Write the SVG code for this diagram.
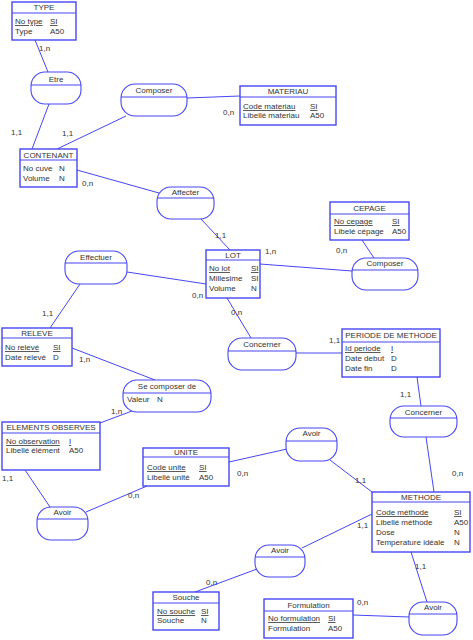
<svg xmlns="http://www.w3.org/2000/svg" width="473" height="640" viewBox="0 0 473 640">
<style>
text{font-family:"Liberation Sans",Arial,sans-serif;font-size:8px;fill:#333}
.c{text-anchor:middle}
.u{text-decoration:underline}
.ent{fill:#fff;stroke:#4646f5;stroke-width:1.4}
.as{fill:#fff;stroke:#4646f5;stroke-width:1.1}
.dv{stroke:#4646f5;stroke-width:1.1}
.ln{stroke:#4646f5;stroke-width:1;fill:none}
</style>
<defs>
<clipPath id="clipM"><rect x="372" y="492" width="98" height="60"/></clipPath>
</defs>
<g id="connectors">
<line class="ln" x1="35" y1="40" x2="48" y2="72"/>
<line class="ln" x1="49" y1="104" x2="32" y2="149"/>
<line class="ln" x1="126" y1="116" x2="57" y2="149"/>
<line class="ln" x1="187" y1="98" x2="240" y2="96"/>
<line class="ln" x1="77" y1="170" x2="159" y2="193"/>
<line class="ln" x1="201" y1="219" x2="230" y2="250"/>
<line class="ln" x1="260" y1="264" x2="352" y2="271"/>
<line class="ln" x1="362" y1="240" x2="374" y2="258"/>
<line class="ln" x1="127" y1="272" x2="206" y2="284"/>
<line class="ln" x1="80" y1="284" x2="50" y2="328"/>
<line class="ln" x1="227" y1="298" x2="251" y2="338"/>
<line class="ln" x1="296" y1="353" x2="342" y2="353"/>
<line class="ln" x1="417" y1="377" x2="421" y2="406"/>
<line class="ln" x1="426" y1="437" x2="434" y2="492"/>
<line class="ln" x1="72" y1="348" x2="155" y2="380"/>
<line class="ln" x1="132" y1="411" x2="100" y2="423"/>
<line class="ln" x1="25" y1="470" x2="50" y2="507"/>
<line class="ln" x1="147" y1="486" x2="86" y2="512"/>
<line class="ln" x1="229" y1="462" x2="287" y2="449"/>
<line class="ln" x1="330" y1="460" x2="372" y2="492"/>
<line class="ln" x1="372" y1="514" x2="302" y2="548"/>
<line class="ln" x1="257" y1="569" x2="195" y2="592"/>
<line class="ln" x1="411" y1="552" x2="427" y2="602"/>
<line class="ln" x1="353" y1="615" x2="409" y2="617"/>
<text x="39" y="51">1,n</text>
<text x="11" y="135">1,1</text>
<text x="62" y="136">1,1</text>
<text x="223" y="115">0,n</text>
<text x="82" y="186">0,n</text>
<text x="215" y="238">1,1</text>
<text x="265" y="254">1,n</text>
<text x="336" y="253">0,n</text>
<text x="192" y="298">0,n</text>
<text x="42" y="316">1,1</text>
<text x="231" y="315">0,n</text>
<text x="329" y="343">1,1</text>
<text x="400" y="397">1,1</text>
<text x="452" y="476">0,n</text>
<text x="79" y="362">1,n</text>
<text x="111" y="414">1,n</text>
<text x="2" y="481">1,1</text>
<text x="128" y="498">0,n</text>
<text x="237" y="476">0,n</text>
<text x="355" y="483">1,1</text>
<text x="357" y="528">1,1</text>
<text x="206" y="585">0,n</text>
<text x="415" y="569">1,1</text>
<text x="357" y="605">0,n</text>
</g>
<g id="TYPE">
<rect class="ent" x="12" y="2" width="64" height="38"/>
<line class="dv" x1="12" y1="13" x2="76" y2="13"/>
<text class="c" x="44" y="10">TYPE</text>
<text class="u" x="15" y="24">No type</text><text class="u" x="50" y="24">SI</text>
<text x="15" y="34">Type</text><text x="50" y="34">A50</text>
</g>
<g id="CONTENANT">
<rect class="ent" x="20" y="149" width="57" height="38"/>
<line class="dv" x1="20" y1="160" x2="77" y2="160"/>
<text class="c" x="48.5" y="158">CONTENANT</text>
<text x="23" y="171">No cuve</text><text x="59" y="171">N</text>
<text x="23" y="181">Volume</text><text x="59" y="181">N</text>
</g>
<g id="MATERIAU">
<rect class="ent" x="240" y="86" width="96" height="39"/>
<line class="dv" x1="240" y1="97" x2="336" y2="97"/>
<text class="c" x="288" y="94">MATERIAU</text>
<text class="u" x="243" y="109">Code materiau</text><text class="u" x="310" y="109">SI</text>
<text x="243" y="118">Libellé materiau</text><text x="310" y="118">A50</text>
</g>
<g id="CEPAGE">
<rect class="ent" x="330" y="202" width="79" height="38"/>
<line class="dv" x1="330" y1="214" x2="409" y2="214"/>
<text class="c" x="369.5" y="211">CEPAGE</text>
<text class="u" x="334" y="224">No cepage</text><text class="u" x="392" y="224">SI</text>
<text x="334" y="234">Libelé cépage</text><text x="392" y="234">A50</text>
</g>
<g id="LOT">
<rect class="ent" x="206" y="250" width="54" height="48"/>
<line class="dv" x1="206" y1="260" x2="260" y2="260"/>
<text class="c" x="233" y="258">LOT</text>
<text class="u" x="209" y="271">No lot</text><text class="u" x="251" y="271">SI</text>
<text x="209" y="281">Millesime</text><text x="251" y="281">SI</text>
<text x="209" y="291">Volume</text><text x="251" y="291">N</text>
</g>
<g id="RELEVE">
<rect class="ent" x="2" y="328" width="70" height="38"/>
<line class="dv" x1="2" y1="338" x2="72" y2="338"/>
<text class="c" x="37" y="336">RELEVE</text>
<text class="u" x="5" y="350">No relevé</text><text class="u" x="53" y="350">SI</text>
<text x="5" y="360">Date relevé</text><text x="53" y="360">D</text>
</g>
<g id="PERIODE">
<rect class="ent" x="342" y="329" width="98" height="48"/>
<line class="dv" x1="342" y1="342" x2="440" y2="342"/>
<text class="c" x="391" y="338">PERIODE DE METHODE</text>
<text class="u" x="345" y="351">Id periode</text><text class="u" x="391" y="351">I</text>
<text x="345" y="361">Date debut</text><text x="391" y="361">D</text>
<text x="345" y="371">Date fin</text><text x="391" y="371">D</text>
</g>
<g id="ELEMENTS">
<rect class="ent" x="2" y="422" width="98" height="48"/>
<line class="dv" x1="2" y1="433" x2="100" y2="433"/>
<text class="c" x="51" y="430">ELEMENTS OBSERVES</text>
<text class="u" x="6" y="444">No observation</text><text class="u" x="69" y="444">I</text>
<text x="6" y="453">Libellé élément</text><text x="69" y="453">A50</text>
</g>
<g id="UNITE">
<rect class="ent" x="143" y="448" width="86" height="38"/>
<line class="dv" x1="143" y1="457" x2="229" y2="457"/>
<text class="c" x="186" y="455">UNITE</text>
<text class="u" x="147" y="470">Code unite</text><text class="u" x="199" y="470">SI</text>
<text x="147" y="480">Libellé unité</text><text x="199" y="480">A50</text>
</g>
<g id="METHODE">
<rect class="ent" x="372" y="492" width="98" height="60"/>
<line class="dv" x1="372" y1="502" x2="470" y2="502"/>
<text class="c" x="421" y="500">METHODE</text>
<g clip-path="url(#clipM)">
<text class="u" x="376" y="515">Code méthode</text><text class="u" x="454" y="515">SI</text>
<text x="376" y="525">Libellé méthode</text><text x="454" y="525">A50</text>
<text x="376" y="535">Dose</text><text x="454" y="535">N</text>
<text x="376" y="545">Temperature idéale</text><text x="454" y="545">N</text>
</g>
</g>
<g id="Souche">
<rect class="ent" x="153" y="592" width="66" height="38"/>
<line class="dv" x1="153" y1="603" x2="219" y2="603"/>
<text class="c" x="186" y="600">Souche</text>
<text class="u" x="157" y="614">No souche</text><text class="u" x="201" y="614">SI</text>
<text x="157" y="623">Souche</text><text x="201" y="623">N</text>
</g>
<g id="Formulation">
<rect class="ent" x="264" y="599" width="89" height="39"/>
<line class="dv" x1="264" y1="611" x2="353" y2="611"/>
<text class="c" x="308.5" y="608">Formulation</text>
<text class="u" x="268" y="621">No formulation</text><text class="u" x="328" y="621">SI</text>
<text x="268" y="631">Formulation</text><text x="328" y="631">A50</text>
</g>
<g id="Etre">
<rect class="as" x="31" y="72" width="50" height="32" rx="14"/>
<line class="dv" x1="31" y1="85" x2="81" y2="85"/>
<text class="c" x="56" y="82">Etre</text>
</g>
<g id="Composer1">
<rect class="as" x="121" y="84" width="66" height="32" rx="14"/>
<line class="dv" x1="121" y1="97" x2="187" y2="97"/>
<text class="c" x="154" y="93">Composer</text>
</g>
<g id="Affecter">
<rect class="as" x="157" y="187" width="57" height="32" rx="14"/>
<line class="dv" x1="157" y1="198" x2="214" y2="198"/>
<text class="c" x="185.5" y="195">Affecter</text>
</g>
<g id="Composer2">
<rect class="as" x="352" y="258" width="66" height="32" rx="14"/>
<line class="dv" x1="352" y1="270" x2="418" y2="270"/>
<text class="c" x="385" y="266">Composer</text>
</g>
<g id="Effectuer">
<rect class="as" x="65" y="251" width="62" height="33" rx="14"/>
<line class="dv" x1="65" y1="263" x2="127" y2="263"/>
<text class="c" x="96" y="260">Effectuer</text>
</g>
<g id="Concerner1">
<rect class="as" x="228" y="338" width="68" height="32" rx="14"/>
<line class="dv" x1="228" y1="351" x2="296" y2="351"/>
<text class="c" x="262" y="347">Concerner</text>
</g>
<g id="SeComposer">
<rect class="as" x="123" y="380" width="88" height="32" rx="14"/>
<line class="dv" x1="123" y1="393" x2="211" y2="393"/>
<text class="c" x="167" y="389">Se composer de</text>
<text x="127" y="402">Valeur</text><text x="157" y="402">N</text>
</g>
<g id="Concerner2">
<rect class="as" x="390" y="406" width="67" height="31" rx="14"/>
<line class="dv" x1="390" y1="418" x2="457" y2="418"/>
<text class="c" x="423.5" y="415">Concerner</text>
</g>
<g id="Avoir1">
<rect class="as" x="286" y="428" width="51" height="33" rx="14"/>
<line class="dv" x1="286" y1="441" x2="337" y2="441"/>
<text class="c" x="311.5" y="436">Avoir</text>
</g>
<g id="Avoir2">
<rect class="as" x="37" y="507" width="51" height="33" rx="14"/>
<line class="dv" x1="37" y1="519" x2="88" y2="519"/>
<text class="c" x="62.5" y="515">Avoir</text>
</g>
<g id="Avoir3">
<rect class="as" x="255" y="545" width="50" height="32" rx="14"/>
<line class="dv" x1="255" y1="557" x2="305" y2="557"/>
<text class="c" x="280" y="553">Avoir</text>
</g>
<g id="Avoir4">
<rect class="as" x="409" y="602" width="48" height="33" rx="14"/>
<line class="dv" x1="409" y1="614" x2="457" y2="614"/>
<text class="c" x="433" y="610">Avoir</text>
</g>
</svg>
